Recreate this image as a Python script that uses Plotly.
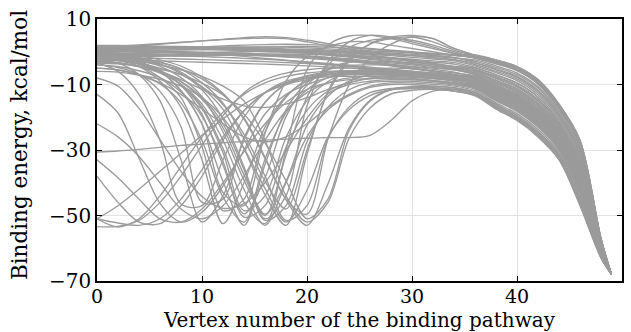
import plotly.graph_objects as go

# vertex numbers sampled along each binding pathway
vertex = [0, 2, 4, 6, 8, 10, 12, 14, 16, 18, 20, 22, 24, 26, 28, 30, 32, 34,
          36, 38, 40, 42, 44, 46, 48, 49]

# binding energies (kcal/mol), one list per pathway
t01 = [1.5, 1.8, 2.1, 2.5, 2.9, 3.3, 3.7, 4.0, 4.2, 4.0, 3.0, 1.8, 0.8, 0.3, 0, -0.3, -0.6, -0.8, -1, -2.5, -4.5, -8.5, -16, -27, -57, -68]
t02 = [1.0, 1.3, 1.8, 2.3, 2.8, 3.3, 3.8, 4.3, 4.6, 4.3, 3.5, 2.5, 1.5, 0.8, 0.3, -0.2, -0.7, -1.2, -1.6, -3.3, -5.3, -9.4, -16.9, -28, -57.3, -68]
t03 = [1.9, 1.9, 1.8, 1.7, 1.6, 1.5, 1.4, 1.3, 1.1, 0.9, 0.7, 0.5, 0.2, -0.1, -0.4, -0.8, -1.2, -1.8, -3.3, -5.2, -7.5, -11.7, -19.1, -30.6, -58.1, -68]
t04 = [1.3, 1.2, 1.2, 1.1, 1.0, 0.9, 0.8, 0.7, 0.6, 0.4, 0.2, 0, -0.4, -0.8, -1.2, -1.7, -2.2, -2.8, -4.3, -6.4, -8.8, -13.1, -20.4, -32.2, -58.6, -68]
t05 = [0.8, 0.9, 1.0, 1.0, 1.0, 1.0, 0.9, 0.7, 0.5, 0.2, -0.2, -0.6, -1.0, -1.5, -2.0, -2.6, -3.2, -3.8, -5.3, -7.6, -10.1, -14.5, -21.8, -33.8, -59, -68]
t06 = [0.3, 0.3, 0.4, 0.5, 0.6, 0.6, 0.5, 0.4, 0.2, 0, -0.3, -0.7, -1.2, -1.8, -2.4, -3.0, -3.8, -4.6, -6.1, -8.7, -11.3, -15.7, -23, -35.2, -59.5, -68]
t07 = [0, 0, 0, 0, 0, -0.2, -0.4, -0.6, -0.8, -1, -1.4, -1.8, -2.2, -2.8, -3.4, -4, -4.8, -5.5, -7, -9.7, -12.4, -16.9, -24.2, -36.6, -59.9, -68]
t08 = [-0.4, -0.4, -0.3, -0.2, -0.2, -0.3, -0.4, -0.5, -0.7, -1, -1.3, -1.7, -2.3, -3, -3.8, -4.6, -5.4, -6.2, -7.8, -10.6, -13.4, -18, -25.2, -37.8, -60.2, -68]
t09 = [-0.8, -0.8, -0.8, -0.8, -0.8, -0.9, -1, -1.1, -1.3, -1.5, -1.8, -2.2, -2.8, -3.5, -4.3, -5.2, -6, -7, -8.5, -11.5, -14.4, -19, -26.2, -39, -60.6, -68]
t10 = [-1.2, -1.1, -1, -1, -1, -1, -1, -1, -1, -1.2, -1.5, -2, -2.6, -3.3, -4, -5, -6, -7.5, -9, -12.1, -15.1, -19.7, -26.9, -39.8, -60.8, -68]
t11 = [-1.6, -1.6, -1.5, -1.4, -1.3, -1.2, -1.1, -1, -0.8, -0.7, -0.8, -1, -1.5, -2, -2.8, -3.6, -4.4, -5.2, -6.5, -9.1, -11.8, -16.2, -23.5, -35.8, -59.6, -68]
t12 = [1.5, 1.4, 1.3, 1.2, 1.1, 1, 0.9, 0.8, 0.7, 0.6, 0.4, 0.2, 0, -0.4, -0.8, -1.2, -1.8, -2.4, -3.9, -6, -8.3, -12.5, -19.9, -31.6, -58.4, -68]
t13 = [-0.1, 0, 0.2, 0.4, 0.6, 0.8, 1, 1.2, 1.4, 1.6, 1.6, 1.4, 1.1, 0.8, 0.3, -0.3, -1, -1.8, -2.9, -4.8, -7, -11.1, -18.6, -30, -57.9, -68]
t14 = [0.6, 0.5, 0.4, 0.2, 0, -0.2, -0.5, -0.8, -1.2, -1.6, -2, -2.5, -3, -3.6, -4.2, -5, -6, -7, -8.1, -11.1, -13.9, -18.5, -25.7, -38.4, -60.4, -68]
t15 = [-2, -2, -2, -2, -2.2, -2.4, -2.6, -2.8, -3, -3.3, -3.6, -4, -4.5, -5, -5.5, -6.2, -7, -8, -9.8, -13, -16.1, -20.8, -27.9, -41, -61.2, -68]
t16 = [-2.5, -2.5, -2.6, -2.8, -3, -3.2, -3.4, -3.6, -3.8, -4, -4.3, -4.6, -5, -5.5, -6, -7, -8, -9, -10.5, -13.9, -17, -21.8, -28.9, -42.2, -61.6, -68]
t17 = [1, 1, 1, 1.1, 1.2, 1.3, 1.2, 1, 0.8, 0.5, 0, -0.5, -1, -1.5, -2, -3, -4, -5, -5.8, -8.2, -10.8, -15.2, -22.5, -34.6, -59.3, -68]
t18 = [-1, -1, -0.9, -0.8, -0.6, -0.4, -0.2, 0, 0.2, 0.3, 0.2, 0, -0.5, -1, -1.8, -2.6, -3.5, -4.5, -4.9, -7.2, -9.6, -13.9, -21.3, -33.2, -58.9, -68]
t19 = [0.5, 0.6, 0.8, 1, 1.2, 1.5, 1.8, 2, 2.2, 2.3, 2.2, 2, 1.6, 1, 0.5, 0, -0.5, -1, -2, -3.7, -5.8, -9.9, -17.4, -28.6, -57.5, -68]
t20 = [0.2, 0.2, 0.1, 0, -0.2, -0.5, -0.9, -1.4, -2, -2.6, -3.2, -3.8, -4.4, -5, -5.6, -6.4, -7.2, -8, -9.4, -12.6, -15.6, -20.2, -27.4, -40.4, -61, -68]
t21 = [1.7, 1.7, 1.6, 1.5, 1.4, 1.3, 1.2, 1.0, 0.8, 0.6, 0.3, 0, -0.3, -0.6, -0.9, -1.2, -1.5, -1.9, -2.5, -4.3, -6.5, -10.6, -18, -29.4, -57.7, -68]
t22 = [0.4, 0.5, 0.7, 0.9, 1.1, 1.3, 1.4, 1.5, 1.5, 1.4, 1.2, 0.9, 0.5, 0, -0.5, -1.1, -1.8, -2.5, -3.5, -5.5, -7.8, -12, -19.4, -31, -58.2, -68]
t23 = [-0.6, -0.6, -0.5, -0.4, -0.3, -0.2, -0.1, 0, 0, -0.2, -0.4, -0.7, -1, -1.4, -1.8, -2.3, -2.8, -3.3, -4.8, -7, -9.5, -13.8, -21.1, -33, -58.8, -68]
t24 = [1.1, 1.1, 1.2, 1.2, 1.2, 1.1, 1.0, 0.8, 0.5, 0.1, -0.4, -1, -1.6, -2.3, -3, -3.7, -4.4, -5, -6.3, -8.8, -11.4, -15.9, -23.1, -35.4, -59.5, -68]
t25 = [-1.4, -1.3, -1.2, -1.2, -1.3, -1.5, -1.7, -2, -2.3, -2.7, -3.1, -3.6, -4.1, -4.7, -5.3, -5.9, -6.5, -7.1, -7.5, -10.3, -13.1, -17.6, -24.8, -37.4, -60.1, -68]
s01 = [-3, -3.5, -4.5, -6, -8.5, -11.5, -14.5, -16.5, -17, -16, -14, -11.5, -9.5, -8, -7.5, -7.5, -8, -8.5, -10, -13.3, -16.4, -21.1, -28.2, -41.4, -61.3, -68]
s02 = [-5, -5.5, -7, -9.5, -13, -17.5, -22, -26, -27.5, -26, -22, -17, -13, -10.5, -9.5, -9.5, -10, -10.5, -11.9, -15.6, -18.9, -23.7, -30.8, -44.4, -62.2, -68]
da = [-8, -10.5, -17.3, -26.8, -36.5, -44.2, -47.8, -46.4, -40, -30.3, -20.3, -12.8, -10, -9, -8.5, -8.5, -9, -10, -11.4, -15, -18.2, -23, -30.1, -43.6, -62, -68]
db = [-13, -18.7, -32.5, -46.3, -52, -49, -41, -30, -19, -13, -10, -8, -7, -6.5, -6.5, -7, -7.5, -8, -8.8, -11.8, -14.7, -19.4, -26.5, -39.4, -60.7, -68]
d01 = [-2, -2.7, -4.4, -7.9, -14, -29, -48.5, -45, -24.5, -13.9, -8.6, -6.4, -6, -6, -6.3, -6.7, -7.3, -8, -9.1, -12.3, -15.2, -19.9, -27.1, -40, -60.9, -68]
d02 = [-3, -3.4, -4.6, -6.5, -10, -16, -27, -42, -53, -40, -25.9, -17.7, -13.4, -10.9, -10, -10, -10.5, -11, -12.5, -16.3, -19.7, -24.6, -31.6, -45.4, -62.5, -68]
d03 = [-2, -2.3, -3, -4, -5.5, -7.5, -10.5, -15, -27, -44, -52, -46, -26.5, -17.2, -12.9, -11.8, -11.5, -12, -13.5, -17.5, -21, -26, -33, -47, -63, -68]
d04 = [-1, -1.3, -2.3, -3.9, -6.2, -10.9, -17.6, -29.6, -43.6, -53, -31.3, -12, -2.3, 2.3, 4, 4.5, 3, 0.5, -1.3, -2.8, -4.8, -8.9, -16.3, -27.4, -57.1, -68]
d05 = [-0.5, -0.9, -2, -3.7, -6.7, -11.6, -20.5, -35.1, -51, -44, -16.5, -3.1, 3, 5, 4.5, 3, 1.5, -0.5, -1.4, -3, -5, -9, -16.5, -27.6, -57.2, -68]
d06 = [-4, -4.5, -5.8, -7.9, -12.3, -19.7, -33.4, -50.5, -47, -29.2, -17.9, -12, -9.4, -8.3, -8, -8.2, -8.8, -9.5, -10.9, -14.4, -17.5, -22.3, -29.4, -42.8, -61.7, -68]
d07 = [-1.5, -2.1, -3.5, -6.1, -11.8, -22.1, -39.6, -53, -34.4, -17.7, -9.4, -5.5, -4.2, -4, -4, -4.5, -5, -5.5, -6.8, -9.4, -12.1, -16.6, -23.8, -36.2, -59.8, -68]
d08 = [-2.5, -2.8, -3.6, -5, -7, -10.6, -16.1, -25.2, -37.9, -51.5, -47, -26.5, -16.9, -12.5, -11.2, -11, -11, -11.5, -12.9, -16.8, -20.2, -25.1, -32.2, -46, -62.7, -68]
d09 = [-3.5, -3.7, -4.4, -5.4, -7, -9.6, -13.2, -19, -27.8, -39.4, -51, -45, -24.1, -15.1, -11.6, -11, -11.2, -12, -13.3, -17.2, -20.7, -25.7, -32.7, -46.6, -62.9, -68]
d10 = [-1, -1.4, -2.6, -4.4, -7.9, -13.7, -24.5, -39.2, -50, -31.6, -13.8, -4.1, 1.3, 3.5, 4, 3.5, 2, 0, -1.9, -3.6, -5.7, -9.7, -17.2, -28.4, -57.4, -68]
d11 = [-5, -5.6, -7.1, -9.8, -15.6, -27.1, -44.4, -52, -32.8, -18.7, -11.6, -7.9, -6.5, -6, -6, -6.4, -7, -7.5, -8.3, -11.2, -14.1, -18.7, -25.9, -38.6, -60.5, -68]
d12 = [-0.5, -0.8, -1.7, -3.1, -5.3, -9.5, -15.7, -26.6, -39.5, -48, -30, -12.5, -3, 2.4, 4.5, 5, 4, 1, -1, -2.5, -4.5, -8.5, -16, -27, -57, -68]
d13 = [-2, -2.5, -3.8, -5.8, -10.2, -17.4, -30.8, -48.5, -44, -26.2, -14.9, -9.1, -6.4, -5.3, -5, -5.2, -5.8, -6.5, -7.3, -10, -12.8, -17.3, -24.5, -37, -60, -68]
d14 = [-1, -1.3, -2, -3.3, -5.2, -8.3, -13, -20.2, -32.2, -45.2, -53, -40.3, -23.3, -14.8, -11.4, -10.6, -10.6, -11, -12.3, -16, -19.4, -24.3, -31.3, -45, -62.4, -68]
d15 = [-3, -3.4, -4.4, -6.1, -9, -14, -22, -36, -51.5, -47, -27.5, -16.9, -11.6, -9.4, -9, -9, -9.5, -10, -11.1, -14.7, -17.9, -22.7, -29.8, -43.2, -61.9, -68]
d16 = [-2, -2.5, -3.8, -5.8, -9.9, -16.8, -29.5, -45.9, -52.5, -30, -5.4, 2.1, 4.8, 5, 4, 2.5, 1, -0.5, -1.5, -3.1, -5.2, -9.2, -16.7, -27.8, -57.2, -68]
d17 = [-1.2, -1.7, -3.1, -5.6, -10.2, -19.1, -34.6, -49.5, -38.5, -19.8, -10.2, -5.2, -3.2, -3, -3, -3.3, -3.8, -4.5, -5.5, -7.9, -10.4, -14.8, -22.1, -34.2, -59.2, -68]
d18 = [-6, -6.2, -7.1, -8.4, -10.5, -14, -20.1, -29.5, -41.7, -52, -42.2, -26, -17.7, -13.4, -11.6, -11.3, -11.5, -12, -13.1, -17.1, -20.5, -25.5, -32.5, -46.4, -62.8, -68]
d19 = [-0.2, -0.4, -1.2, -2.5, -4.4, -7.7, -12.7, -20.6, -32.6, -45, -49.6, -26.6, -10.2, -2, 2.3, 4.5, 4, 1, -1.1, -2.7, -4.7, -8.7, -16.2, -27.2, -57.1, -68]
d20 = [-3, -3.3, -4.4, -6.1, -9.2, -14.5, -23.2, -37.6, -49.6, -39.6, -22.4, -13.6, -9, -7.1, -7, -7.2, -7.6, -8.2, -9.5, -12.7, -15.7, -20.4, -27.6, -40.6, -61.1, -68]
d21 = [-4, -4.8, -6.9, -12.1, -22.9, -46, -45, -26.2, -15.5, -9.9, -7.3, -6.3, -6, -6, -6.2, -6.6, -7.2, -8, -9.3, -12.4, -15.4, -20.1, -27.2, -40.2, -61, -68]
d22 = [-2.5, -3.5, -7, -15, -33, -52, -44, -27, -15.5, -10, -8, -7, -6.8, -6.8, -7, -7.3, -7.8, -8.5, -8.4, -11.4, -14.2, -18.8, -26, -38.8, -60.5, -68]
d23 = [-1.5, -2.2, -4.5, -9, -17, -33, -52.5, -40, -23, -13.5, -9, -7, -6.2, -6, -6, -6.2, -6.7, -7.3, -7.6, -10.5, -13.2, -17.8, -25, -37.6, -60.2, -68]
d24 = [-3.5, -6, -13, -27, -46.5, -47, -33, -20, -12.5, -9, -7.5, -6.8, -6.5, -6.5, -6.7, -7, -7.5, -8, -8.9, -12, -14.9, -19.5, -26.7, -39.6, -60.8, -68]
d25 = [-1, -1.5, -3, -6, -12, -22, -43, -47, -25, -9, -1.5, 1.5, 3, 3, 2, 1, 0, -1, -1.8, -3.4, -5.5, -9.6, -17, -28.2, -57.4, -68]
u01 = [-53.4, -53.3, -51.5, -46, -38, -28.5, -19.5, -12.5, -8.5, -6.5, -5.5, -5, -5, -5.2, -5.5, -6, -6.5, -7, -8, -10.9, -13.7, -18.3, -25.5, -38.2, -60.4, -68]
u02 = [-51, -52.3, -53, -51, -45, -36, -26, -18, -12.5, -9.5, -8, -7.5, -7.5, -7.5, -7.8, -8.2, -8.8, -9.5, -10.6, -14.1, -17.2, -22, -29.1, -42.4, -61.6, -68]
u03 = [-51, -47, -42, -36.5, -31, -25.5, -20.5, -16, -12.5, -10, -8.5, -7.5, -7, -7, -7.2, -7.5, -8, -8.5, -10.1, -13.5, -16.5, -21.3, -28.4, -41.6, -61.4, -68]
u04 = [-38, -46, -52, -52.5, -47, -38, -27, -18, -12.5, -9.5, -8, -7, -6.5, -6.5, -6.8, -7.2, -7.8, -8.5, -9.9, -13.2, -16.2, -20.9, -28.1, -41.2, -61.3, -68]
u05 = [-33, -38.5, -45, -51, -52, -48, -40, -30.5, -22, -15.5, -11.5, -9.5, -8.5, -8.2, -8.2, -8.5, -9, -9.5, -11, -14.5, -17.7, -22.5, -29.6, -43, -61.8, -68]
u06 = [-22, -26, -32, -40, -48, -51, -47, -38, -27, -18, -12.5, -9.5, -8, -7.5, -7.5, -7.8, -8.3, -9, -10.3, -13.6, -16.7, -21.5, -28.6, -41.8, -61.4, -68]
u07 = [-51, -53.5, -51, -44, -35, -26, -18.5, -13, -9.5, -7.5, -6.5, -6, -5.8, -5.8, -6, -6.5, -7, -7.5, -8.6, -11.7, -14.6, -19.2, -26.4, -39.2, -60.7, -68]
u08 = [-30.6, -30.3, -29.8, -29.2, -28.6, -28.2, -27.8, -27.4, -27, -26.7, -26.4, -26.2, -26.2, -25.5, -21, -15, -12, -11.5, -12.8, -16.6, -20, -25, -32, -45.8, -62.6, -68]

paths = [t01, t02, t03, t04, t05, t06, t07, t08, t09, t10, t11, t12, t13,
         t14, t15, t16, t17, t18, t19, t20, t21, t22, t23, t24, t25,
         s01, s02, da, db,
         d01, d02, d03, d04, d05, d06, d07, d08, d09, d10, d11, d12, d13,
         d14, d15, d16, d17, d18, d19, d20, d21, d22, d23, d24, d25,
         u01, u02, u03, u04, u05, u06, u07, u08]

y_ticks = [-70, -50, -30, -10, 10]
y_tick_text = ["\u221270", "\u221250", "\u221230", "\u221210", "10"]
x_ticks = [0, 10, 20, 30, 40, 50]
x_title = "Vertex number of the binding pathway"
y_title = "Binding energy, kcal/mol"

fig = go.Figure()
for p in paths:
    fig.add_trace(go.Scatter(
        x=vertex, y=p, mode="lines",
        line=dict(color="#9b9b9b", width=1.35, shape="spline", smoothing=0.9),
        hoverinfo="skip", showlegend=False))

font_family = "DejaVu Serif"
fig.update_layout(
    width=631, height=332,
    margin=dict(l=97, r=9, t=19, b=51),
    plot_bgcolor="white", paper_bgcolor="white",
    font=dict(family=font_family, size=20, color="black"),
    showlegend=False,
    annotations=[
        dict(text=x_title, xref="paper", yref="paper", x=0.5, y=-0.148,
             xanchor="center", yanchor="middle", showarrow=False,
             font=dict(family=font_family, size=20, color="black")),
        dict(text=y_title, xref="paper", yref="paper", x=-0.148, y=0.52,
             xanchor="center", yanchor="middle", showarrow=False, textangle=-90,
             font=dict(family=font_family, size=21.5, color="black")),
    ],
)
fig.update_xaxes(
    range=[0, 50], tickvals=x_ticks,
    ticks="inside", ticklen=5, tickwidth=1, tickcolor="black",
    showline=True, linecolor="black", linewidth=1.6, mirror="ticks",
    showgrid=True, gridcolor="#e2e2e2", gridwidth=1, zeroline=False,
    tickfont=dict(family=font_family, size=19), ticklabelstandoff=-3,
    automargin=False,
)
fig.update_yaxes(
    range=[-70, 10], tickvals=y_ticks, ticktext=y_tick_text,
    ticks="inside", ticklen=5, tickwidth=1, tickcolor="black",
    showline=True, linecolor="black", linewidth=1.6, mirror="ticks",
    showgrid=True, gridcolor="#e2e2e2", gridwidth=1, zeroline=False,
    tickfont=dict(family=font_family, size=20),
    automargin=False,
)

fig.write_html("out.html")
